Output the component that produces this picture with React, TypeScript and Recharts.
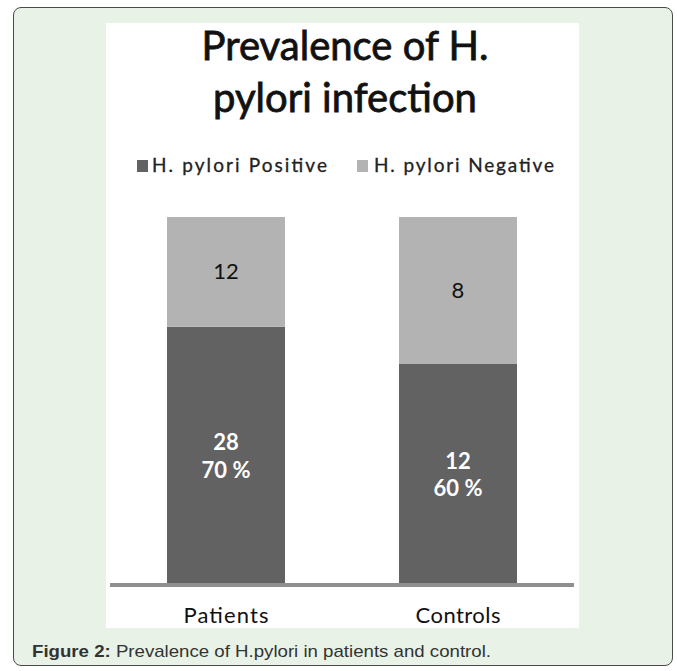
import React from "react";
import { BarChart, Bar, XAxis, YAxis, LabelList } from "recharts";

const categories = ["Patients", "Controls"];
const positiveValues = [28, 12];
const negativeValues = [12, 8];
const seriesNames = ["H. pylori Positive", "H. pylori Negative"];
const titleLines = ["Prevalence of H.", "pylori infection"];

const POS_COLOR = "#626262";
const NEG_COLOR = "#b3b3b3";
const AXIS_COLOR = "#8f8f8f";
const FONT = "Lato, 'Open Sans', sans-serif";

const data = categories.map((c, i) => ({
  name: c,
  positive: positiveValues[i],
  negative: negativeValues[i],
}));

const PositiveLabel = (props: any) => {
  const { x, y, width, height, index } = props;
  const cx = x + width / 2;
  const cy = y + height / 2;
  const v = positiveValues[index];
  const pct = Math.round((v / (positiveValues[index] + negativeValues[index])) * 100);
  return (
    <g>
      <text x={cx} y={cy - 4.5} textAnchor="middle" fill="#ffffff" fontFamily={FONT} fontWeight={700} fontSize={22}>
        {v}
      </text>
      <text x={cx} y={cy + 23} textAnchor="middle" fill="#ffffff" fontFamily={FONT} fontWeight={700} fontSize={22}>
        {pct + " %"}
      </text>
    </g>
  );
};

const NegativeLabel = (props: any) => {
  const { x, y, width, height, index } = props;
  const cx = x + width / 2;
  const cy = y + height / 2;
  return (
    <text x={cx} y={cy + 7.5} textAnchor="middle" fill="#111111" fontFamily={FONT} fontSize={22}>
      {negativeValues[index]}
    </text>
  );
};

const Tick = (props: any) => {
  const { x, y, payload } = props;
  return (
    <text x={x} y={y + 40} textAnchor="middle" fill="#111111" fontFamily={FONT} fontSize={22} textLength={85} lengthAdjust="spacing">
      {payload.value}
    </text>
  );
};

const T = 30; // overlay svg offset above the white panel

export default function App() {
  return (
    <div style={{ position: "absolute", left: 0, top: 0, width: 677, height: 671, background: "#ffffff", overflow: "hidden" }}>
      <div
        style={{
          position: "absolute",
          left: 13,
          top: 7,
          width: 660,
          height: 659,
          boxSizing: "border-box",
          border: "1.5px solid #4a4a4a",
          borderRadius: 8,
          background: "#e8f2e6",
        }}
      />
      <div style={{ position: "absolute", left: 106, top: 23, width: 473, height: 605, background: "#ffffff" }}>
        <BarChart
          width={473}
          height={605}
          data={data}
          stackOffset="expand"
          margin={{ top: 194, right: 5, bottom: 0, left: 4 }}
          barSize={118}
        >
          <XAxis
            dataKey="name"
            height={45}
            tickSize={0}
            tickMargin={0}
            tickLine={false}
            axisLine={{ stroke: AXIS_COLOR, strokeWidth: 4, transform: "translate(0,2)" }}
            tick={<Tick />}
          />
          <YAxis hide domain={[0, 1]} />
          <Bar dataKey="positive" stackId="a" fill={POS_COLOR} isAnimationActive={false}>
            <LabelList dataKey="positive" content={<PositiveLabel />} />
          </Bar>
          <Bar dataKey="negative" stackId="a" fill={NEG_COLOR} isAnimationActive={false}>
            <LabelList dataKey="negative" content={<NegativeLabel />} />
          </Bar>
        </BarChart>
        <svg width={473} height={200 + T} style={{ position: "absolute", left: 0, top: -T, pointerEvents: "none", overflow: "visible" }}>
          <text x={239} y={37 + T} textAnchor="middle" fontFamily={FONT} fontSize={40} fill="#111111" stroke="#111111" strokeWidth={0.8}>
            {titleLines[0]}
          </text>
          <text x={239} y={89 + T} textAnchor="middle" fontFamily={FONT} fontSize={40} fill="#111111" stroke="#111111" strokeWidth={0.8}>
            {titleLines[1]}
          </text>
          <rect x={31} y={137 + T} width={11} height={12} fill={POS_COLOR} />
          <text x={46} y={149 + T} fontFamily={FONT} fontSize={19} fill="#222222" stroke="#222222" strokeWidth={0.3} textLength={175} lengthAdjust="spacing">
            {seriesNames[0]}
          </text>
          <rect x={251} y={137 + T} width={11} height={12} fill={NEG_COLOR} />
          <text x={268} y={149 + T} fontFamily={FONT} fontSize={19} fill="#222222" stroke="#222222" strokeWidth={0.3} textLength={180} lengthAdjust="spacing">
            {seriesNames[1]}
          </text>
        </svg>
      </div>
      <svg width={677} height={671} style={{ position: "absolute", left: 0, top: 0, pointerEvents: "none" }}>
        <text x={32} y={657} fontFamily="'Liberation Sans', Arial, sans-serif" fontSize={17} fill="#333333" textLength={459} lengthAdjust="spacingAndGlyphs">
          <tspan fontWeight={700}>Figure 2:</tspan>
          <tspan> Prevalence of H.pylori in patients and control.</tspan>
        </text>
      </svg>
    </div>
  );
}
